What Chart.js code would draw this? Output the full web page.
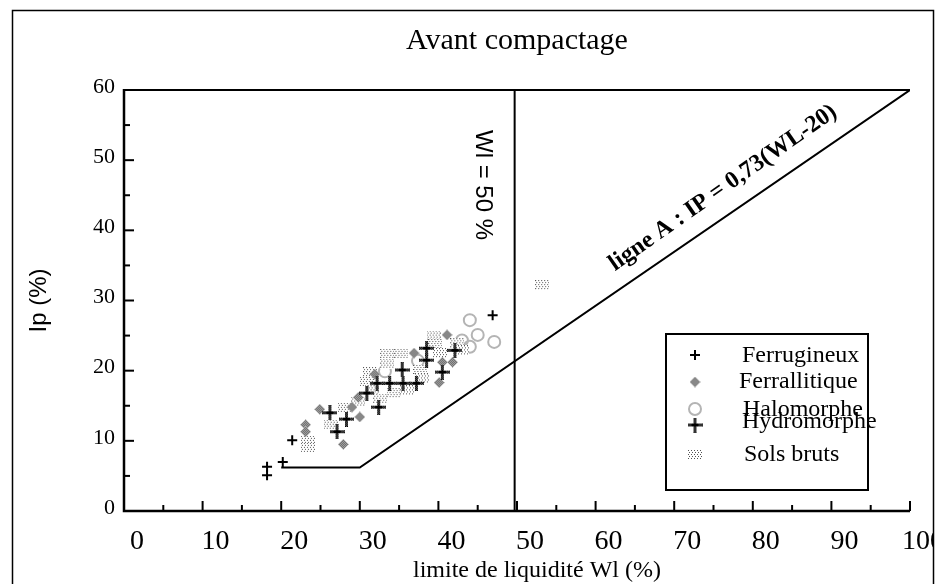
<!DOCTYPE html>
<html><head><meta charset="utf-8">
<script src="https://cdn.jsdelivr.net/npm/chart.js@4/dist/chart.umd.min.js"></script>
<style>html,body{margin:0;padding:0;background:#fff;}</style>
</head><body>
<canvas id="c" width="937" height="584" style="width:937px;height:584px;display:block"></canvas>
<script>
// ---------- texts ----------
const titleText = 'Avant compactage';
const xAxisTitle = 'limite de liquidité Wl (%)';
const yAxisTitle = 'Ip (%)';
const wlLabel = 'Wl = 50 %';
const aLineLabel = 'ligne A : IP = 0,73(WL-20)';
const seriesNames = ['Ferrugineux', 'Ferrallitique', 'Halomorphe', 'Hydromorphe', 'Sols bruts'];

// ---------- tick values ----------
const xTickValues = [0, 10, 20, 30, 40, 50, 60, 70, 80, 90, 100];
const yTickValues = [0, 10, 20, 30, 40, 50, 60];

// ---------- data (Wl %, Ip %) ----------
const ferrugineuxX = [18.2, 18.2, 20.2, 21.4, 46.9];
const ferrugineuxY = [6.3, 5.1, 7.0, 10.1, 27.9];

const ferrallitiqueX = [23.1, 23.1, 27.9, 24.9, 29.0, 30.0, 29.8, 31.9, 36.9, 40.1, 40.5, 41.1, 41.8];
const ferrallitiqueY = [12.3, 11.3, 9.5, 14.5, 14.8, 13.4, 16.2, 19.5, 22.5, 18.3, 21.2, 25.1, 21.2];

const halomorpheX = [44.0, 45.0, 44.0, 47.1, 43.0, 33.2, 37.4];
const halomorpheY = [27.2, 25.1, 23.4, 24.1, 24.3, 19.9, 21.4];

const hydromorpheX = [26.2, 27.1, 28.3, 32.4, 32.2, 33.8, 35.5, 37.2, 35.4, 38.5, 40.5, 42.1, 38.5, 30.9];
const hydromorpheY = [14.0, 11.3, 13.1, 14.8, 18.2, 18.2, 18.2, 18.2, 20.1, 21.5, 19.8, 22.9, 23.2, 16.8];

const solsBrutsX = [23.4, 23.4, 26.3, 28.1, 29.8, 31.3, 30.9, 31.5, 32.6, 33.5, 33.5, 35.3, 34.3, 36.0, 37.7, 37.9, 39.4, 39.6, 40.2, 42.4, 43.0, 53.2];
const solsBrutsY = [10.0, 9.0, 12.3, 14.7, 15.6, 19.8, 18.4, 17.2, 16.0, 22.4, 21.0, 22.4, 16.8, 17.2, 20.1, 18.9, 25.0, 23.8, 22.5, 23.9, 22.9, 32.2];

// reference lines
const aLineX = [20, 30, 100];
const aLineY = [6.2, 6.2, 60];
const wlLineX = [49.7, 49.7];
const wlLineY = [0, 60];

// ---------- helpers ----------
const zip = (xs, ys) => xs.map((x, i) => ({x, y: ys[i]}));
function mk(w, h, fn) { const c = document.createElement('canvas'); c.width = w; c.height = h; fn(c.getContext('2d'), w, h); return c; }

// marker images
const imgDiamond = mk(11, 11, (g, w, h) => {
  for (let y = 0; y < h; y++) for (let x = 0; x < w; x++) {
    if (Math.abs(x - 5) + Math.abs(y - 5) <= 5) { g.fillStyle = ((x + y) % 2 === 0) ? '#555' : '#bbb'; g.fillRect(x, y, 1, 1); }
  }
});
const imgHydro = mk(15, 15, (g, w, h) => {
  for (let y = 0; y < h; y++) for (let x = 0; x < w; x++) {
    const inH = (y >= 6 && y <= 8), inV = (x >= 6 && x <= 8);
    if (inH || inV) {
      const center = (x >= 4 && x <= 10 && inH);
      g.fillStyle = (center || (x + y) % 2 === 0) ? '#000' : '#666';
      g.fillRect(x, y, 1, 1);
    }
  }
});
const imgSols = mk(14, 10, (g, w, h) => {
  g.fillStyle = '#fff'; g.fillRect(0, 0, w, h);
  for (let y = 0; y < h; y += 2) for (let x = (y / 2) % 2; x < w; x += 3) { g.fillStyle = '#555'; g.fillRect(x, y, 1, 1); }
});

const SERIF = '"Liberation Serif", "Times New Roman", serif';
const SANS = '"Liberation Sans", Arial, sans-serif';

const decor = {
  id: 'decor',
  beforeDraw(chart) {
    const ctx = chart.ctx;
    ctx.save(); ctx.fillStyle = '#fff'; ctx.fillRect(0, 0, chart.width, chart.height); ctx.restore();
  },
  afterDraw(chart) {
    const ctx = chart.ctx, xs = chart.scales.x, ys = chart.scales.y;
    const L = xs.getPixelForValue(0), R = xs.getPixelForValue(100);
    const B = ys.getPixelForValue(0), T = ys.getPixelForValue(60);
    ctx.save();
    ctx.strokeStyle = '#000';
    // axes
    ctx.lineWidth = 2.5;
    ctx.beginPath(); ctx.moveTo(L, T - 1); ctx.lineTo(L, B); ctx.lineTo(R, B); ctx.stroke();
    ctx.lineWidth = 2;
    ctx.beginPath(); ctx.moveTo(L, T); ctx.lineTo(R, T); ctx.stroke();
    // inward ticks
    for (let v = 0; v <= 100; v += 5) {
      const p = xs.getPixelForValue(v), len = v % 10 === 0 ? 10 : 6;
      ctx.beginPath(); ctx.moveTo(p, B); ctx.lineTo(p, B - len); ctx.stroke();
    }
    for (let v = 0; v <= 60; v += 5) {
      const p = ys.getPixelForValue(v), len = v % 10 === 0 ? 10 : 6;
      ctx.beginPath(); ctx.moveTo(L, p); ctx.lineTo(L + len, p); ctx.stroke();
    }
    // annotations
    ctx.fillStyle = '#000';
    ctx.save();
    ctx.translate(483, 185); ctx.rotate(Math.PI / 2);
    ctx.font = '24px ' + SANS; ctx.textAlign = 'center'; ctx.textBaseline = 'middle';
    ctx.fillText(wlLabel, 0, 0);
    ctx.restore();
    ctx.save();
    ctx.translate(723, 188); ctx.rotate(-35 * Math.PI / 180);
    ctx.font = 'bold 24px ' + SERIF; ctx.textAlign = 'center'; ctx.textBaseline = 'middle';
    ctx.fillText(aLineLabel, 0, 0);
    ctx.restore();
    // x axis title
    ctx.font = '24px ' + SERIF; ctx.textAlign = 'center'; ctx.textBaseline = 'middle';
    ctx.fillText(xAxisTitle, 537, 571);
    // legend
    ctx.fillStyle = '#fff'; ctx.fillRect(666, 334, 202, 156);
    ctx.lineWidth = 2; ctx.strokeRect(666, 334, 202, 156);
    const symY = [355, 382, 409, 425, 455];
    const txtX = [742, 739, 743, 742, 744];
    const txtY = [362, 388, 416, 428, 461];
    chart.data.datasets.slice(0, 5).forEach((ds, i) => {
      const meta = chart.getDatasetMeta(i);
      const el = meta.data[0];
      if (el) {
        const o = el.options;
        ctx.save();
        ctx.strokeStyle = o.borderColor; ctx.fillStyle = o.backgroundColor; ctx.lineWidth = o.borderWidth;
        Chart.helpers.drawPoint(ctx, o, 695, symY[i]);
        ctx.restore();
      }
      ctx.font = '24px ' + SERIF; ctx.textAlign = 'left'; ctx.textBaseline = 'alphabetic';
      ctx.fillStyle = '#000';
      ctx.fillText(ds.label, txtX[i], txtY[i]);
    });
    // outer frame (clips the last tick label like the original)
    ctx.fillStyle = '#fff'; ctx.fillRect(934, 0, 10, chart.height);
    ctx.lineWidth = 1.5; ctx.strokeStyle = '#000';
    ctx.strokeRect(12.5, 10.5, 921, 620);
    ctx.restore();
  }
};

const datasets = [
  { label: seriesNames[0], data: zip(ferrugineuxX, ferrugineuxY), pointStyle: 'cross', pointRadius: 5, borderColor: '#000', backgroundColor: '#000', pointBorderWidth: 2, order: 0 },
  { label: seriesNames[1], data: zip(ferrallitiqueX, ferrallitiqueY), pointStyle: imgDiamond, pointRadius: 5, order: 2 },
  { label: seriesNames[2], data: zip(halomorpheX, halomorpheY), pointStyle: 'circle', pointRadius: 6, borderColor: '#b4b4b4', backgroundColor: 'rgba(0,0,0,0)', pointBackgroundColor: 'rgba(0,0,0,0)', pointBorderColor: '#b4b4b4', pointBorderWidth: 2, order: 4 },
  { label: seriesNames[3], data: zip(hydromorpheX, hydromorpheY), pointStyle: imgHydro, pointRadius: 6, order: 1 },
  { label: seriesNames[4], data: zip(solsBrutsX, solsBrutsY), pointStyle: imgSols, pointRadius: 5, order: 3 },
  { label: 'ligne A', data: zip(aLineX, aLineY), showLine: true, pointRadius: 0, borderColor: '#000', borderWidth: 2, order: 6 },
  { label: 'Wl = 50', data: zip(wlLineX, wlLineY), showLine: true, pointRadius: 0, borderColor: '#000', borderWidth: 2, order: 5 }
];

new Chart(document.getElementById('c'), {
  type: 'scatter',
  data: { datasets },
  options: {
    responsive: false,
    devicePixelRatio: 1,
    animation: false,
    events: [],
    layout: { padding: { left: 0, right: 27, top: 0, bottom: 0 } },
    plugins: {
      legend: { display: false },
      tooltip: { enabled: false },
      title: { display: true, text: titleText, fullSize: false, color: '#000',
        font: { family: SERIF, size: 30, weight: 'normal' }, padding: { top: 23, bottom: 31 } }
    },
    scales: {
      x: {
        type: 'linear', min: 0, max: 100,
        afterFit: s => { s.height = 73; s.paddingLeft = 0; s.paddingRight = 0; },
        afterBuildTicks: s => { s.ticks = xTickValues.map(v => ({ value: v })); },
        grid: { display: false, drawTicks: false },
        border: { display: false },
        ticks: { color: '#000', font: { family: SERIF, size: 28 }, padding: 14, labelOffset: 13, autoSkip: false, maxRotation: 0 }
      },
      y: {
        type: 'linear', min: 0, max: 60,
        afterFit: s => { s.width = 124; s.paddingTop = 0; s.paddingBottom = 0; },
        afterBuildTicks: s => { s.ticks = yTickValues.map(v => ({ value: v })); },
        grid: { display: false, drawTicks: false },
        border: { display: false },
        ticks: { color: '#000', font: { family: SERIF, size: 22 }, padding: 9, labelOffset: -3, autoSkip: false },
        title: { display: true, text: yAxisTitle, color: '#000', font: { family: SANS, size: 24 }, padding: { top: 25 } }
      }
    }
  },
  plugins: [decor]
});
</script>
</body></html>
